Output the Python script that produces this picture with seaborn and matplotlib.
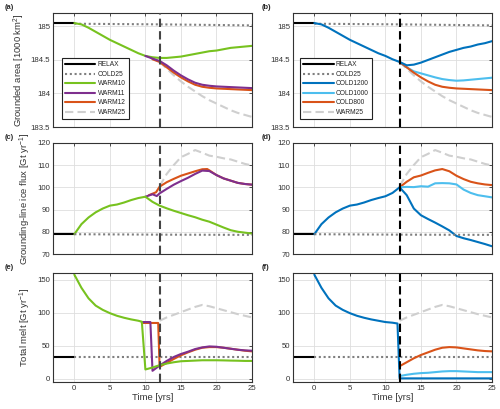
import numpy as np
import matplotlib
matplotlib.use("Agg")
import matplotlib.pyplot as plt
import seaborn as sns
from matplotlib.ticker import FormatStrFormatter

# ---- data ----
t_relax = [-3, 0]
relax_area = [185.05, 185.05]
relax_flux = [79.0, 79.0]
relax_melt = [33.0, 33.0]

t_cold25 = [0, 12.5, 25]
cold25_area = [185.04, 185.03, 185.015]
cold25_flux = [79.0, 78.8, 78.7]
cold25_melt = [33.0, 33.0, 33.0]

# shared warm spin-up, years 0..12 (followed by COLD runs)
t_yr = list(range(0, 26))
cold1200_area = [185.05, 185.03, 184.98, 184.92, 184.86, 184.80, 184.75, 184.70, 184.65, 184.60, 184.56, 184.51, 184.47,
                 184.42, 184.43, 184.46, 184.50, 184.54, 184.58, 184.62, 184.65, 184.68, 184.70, 184.73, 184.75, 184.78]
cold1200_flux = [79.0, 83.5, 86.5, 88.8, 90.5, 91.8, 92.3, 93.2, 94.3, 95.2, 96.0, 97.5, 100.0,
                 96.5, 90.5, 87.5, 85.8, 84.2, 82.5, 80.7, 78.2, 77.2, 76.4, 75.5, 74.6, 73.6]
t_cold1200_melt = [0, 1, 2, 3, 4, 5, 6, 7, 8, 9, 10, 11, 11.7, 12, 25]
cold1200_melt = [158, 138, 122, 111, 104.5, 99.5, 95.5, 92.5, 90, 88, 86, 85, 83.8, 0.5, 0.5]

t_post = list(range(12, 26))
cold1000_area = [184.47, 184.39, 184.33, 184.30, 184.27, 184.24, 184.215, 184.20, 184.19, 184.195, 184.205, 184.215, 184.225, 184.235]
cold1000_flux = [100.0, 100.2, 100.1, 100.5, 100.3, 101.8, 101.9, 101.8, 101.3, 99.0, 97.5, 96.5, 96.0, 95.5]
cold1000_melt = [4, 6, 7.5, 8.5, 9, 10, 11, 11.5, 11.5, 11, 10.5, 10, 10, 10]

cold800_area = [184.47, 184.39, 184.31, 184.24, 184.18, 184.13, 184.10, 184.085, 184.075, 184.07, 184.065, 184.06, 184.055, 184.05]
cold800_flux = [100.0, 102.5, 104.5, 105.3, 106.5, 107.6, 108.2, 107.2, 105.2, 103.7, 102.5, 101.8, 101.3, 101.0]
cold800_melt = [19, 25, 31, 36, 40, 44, 47, 48, 47.5, 46, 44.5, 43, 42, 41.5]

warm25_area = [184.47, 184.37, 184.27, 184.18, 184.10, 184.03, 183.96, 183.90, 183.85, 183.80, 183.75, 183.71, 183.68, 183.65]
warm25_flux = [100.5, 106, 110, 113.5, 115, 116.7, 115.5, 114.2, 113.7, 113, 112.5, 111.5, 110.5, 109.8]
warm25_melt = [88, 93, 97, 101, 105, 109, 112, 110, 107, 104, 101, 98, 95.5, 93]

warm10_area = [185.05, 185.03, 184.98, 184.92, 184.86, 184.80, 184.75, 184.70, 184.65, 184.60, 184.56, 184.54, 184.53,
               184.53, 184.54, 184.55, 184.57, 184.59, 184.61, 184.63, 184.64, 184.66, 184.68, 184.69, 184.70, 184.71]
warm10_flux = [79.0, 83.5, 86.5, 88.8, 90.5, 91.8, 92.3, 93.2, 94.3, 95.2, 95.8, 93.5, 91.8,
               90.6, 89.5, 88.5, 87.5, 86.6, 85.5, 84.6, 83.3, 82.0, 80.8, 80.1, 79.7, 79.3]
t_warm10_melt = [0, 1, 2, 3, 4, 5, 6, 7, 8, 9, 9.5, 10, 11, 12, 13, 14, 15, 16, 17, 18, 19, 20, 21, 22, 23, 24, 25]
warm10_melt = [158, 138, 122, 111, 104.5, 99.5, 95.5, 92.5, 90, 88, 86.5, 14, 17, 20.5, 23, 25, 26.5, 27, 27.5,
               28, 28, 28, 27.8, 27.5, 27.3, 27, 27]

t_warm11 = list(range(10, 26))
warm11_area = [184.56, 184.52, 184.485, 184.42, 184.34, 184.27, 184.21, 184.16, 184.13, 184.115, 184.105, 184.10,
               184.095, 184.09, 184.085, 184.08]
t_warm11_flux = [10, 11, 11.6, 12, 13, 14, 15, 16, 17, 18, 19, 20, 21, 22, 23, 24, 25]
warm11_flux = [95.8, 96.9, 96.1, 97.3, 99.3, 101.2, 102.8, 104.3, 106.0, 107.5, 107.3, 105.5, 104.0, 103.0, 102.0, 101.5, 101.2]
t_warm11_melt = [9.5, 10.7, 11.0, 12, 13, 14, 15, 16, 17, 18, 19, 20, 21, 22, 23, 24, 25]
warm11_melt = [86, 86, 12, 20, 27, 33, 37.5, 41, 45, 47.5, 49, 48.5, 47, 45.5, 44, 43, 42.5]

t_warm12 = list(range(11, 26))
warm12_area = [184.51, 184.47, 184.39, 184.31, 184.24, 184.18, 184.13, 184.10, 184.085, 184.075, 184.07, 184.065,
               184.06, 184.055, 184.05]
t_warm12_flux = [10.5, 11.5, 12, 13, 14, 15, 16, 17, 18, 18.7, 19, 20, 21, 22, 23, 24, 25]
warm12_flux = [96.5, 97.8, 100.3, 102.3, 103.8, 105.2, 106.2, 107.2, 108.1, 108.2, 107.6, 105.5, 104.0, 103.0, 102.0, 101.5, 101.2]
t_warm12_melt = [9.5, 11.8, 12, 13, 14, 15, 16, 17, 18, 19, 20, 21, 22, 23, 24, 25]
warm12_melt = [84.6, 84.6, 18, 24, 30, 35.5, 40, 44, 47, 48, 48, 47, 45.5, 44, 42.5, 41.5]

# ---- styles ----
C_RELAX = "black"
C_COLD25 = "#7f7f7f"
C_WARM10 = "#77c21f"
C_WARM11 = "#7e2f8e"
C_ORANGE = "#d95319"
C_WARM25 = "#cfcfcf"
C_BLUE = "#0072bd"
C_LBLUE = "#4dbeee"
DOT = (0, (1, 1.3))
DASH = (0, (4, 2))
LW = 1.5

sns.set_theme(style="white")
plt.rcParams["font.family"] = ["Liberation Sans", "DejaVu Sans"]
plt.rcParams["mathtext.default"] = "regular"

fig = plt.figure(figsize=(5, 4.09), dpi=100)
W = 199 / 500
rows = [(1 - 127 / 409, 114 / 409), (1 - 254.3 / 409, 111.6 / 409), (1 - 382 / 409, 108.7 / 409)]
lefts = [53 / 500, 293 / 500]
axes = [[fig.add_axes([l, b, W, h]) for l in lefts] for (b, h) in rows]


def draw(ax, t, y, color, ls="-", label=None, z=2):
    sns.lineplot(x=t, y=y, ax=ax, color=color, linestyle=ls, lw=LW, label=label,
                 sort=False, estimator=None, zorder=z)


# (a) / (b) grounded area
ax = axes[0][0]
draw(ax, t_relax, relax_area, C_RELAX, label="RELAX")
draw(ax, t_cold25, cold25_area, C_COLD25, DOT, label="COLD25")
draw(ax, t_yr, warm10_area, C_WARM10, label="WARM10")
draw(ax, t_warm11, warm11_area, C_WARM11, label="WARM11", z=2.2)
draw(ax, t_warm12, warm12_area, C_ORANGE, label="WARM12", z=2.1)
draw(ax, t_post, warm25_area, C_WARM25, DASH, label="WARM25", z=1.5)

ax = axes[0][1]
draw(ax, t_relax, relax_area, C_RELAX, label="RELAX")
draw(ax, t_cold25, cold25_area, C_COLD25, DOT, label="COLD25")
draw(ax, t_yr, cold1200_area, C_BLUE, label="COLD1200", z=2.2)
draw(ax, t_post, cold1000_area, C_LBLUE, label="COLD1000")
draw(ax, t_post, cold800_area, C_ORANGE, label="COLD800")
draw(ax, t_post, warm25_area, C_WARM25, DASH, label="WARM25", z=1.5)

# (c) / (d) grounding-line flux
ax = axes[1][0]
draw(ax, t_relax, relax_flux, C_RELAX)
draw(ax, t_post, warm25_flux, C_WARM25, DASH, z=1.5)
draw(ax, t_warm12_flux, warm12_flux, C_ORANGE)
draw(ax, t_warm11_flux, warm11_flux, C_WARM11)
draw(ax, t_yr, warm10_flux, C_WARM10)
draw(ax, t_cold25, cold25_flux, C_COLD25, DOT, z=2.5)

ax = axes[1][1]
draw(ax, t_relax, relax_flux, C_RELAX)
draw(ax, t_post, warm25_flux, C_WARM25, DASH, z=1.5)
draw(ax, t_post, cold800_flux, C_ORANGE)
draw(ax, t_post, cold1000_flux, C_LBLUE)
draw(ax, t_yr, cold1200_flux, C_BLUE)
draw(ax, t_cold25, cold25_flux, C_COLD25, DOT, z=2.5)

# (e) / (f) total melt
ax = axes[2][0]
draw(ax, t_relax, relax_melt, C_RELAX)
draw(ax, t_post, warm25_melt, C_WARM25, DASH, z=1.5)
draw(ax, t_cold25, cold25_melt, C_COLD25, DOT)
draw(ax, t_warm12_melt, warm12_melt, C_ORANGE)
draw(ax, t_warm11_melt, warm11_melt, C_WARM11)
draw(ax, t_warm10_melt, warm10_melt, C_WARM10)

ax = axes[2][1]
draw(ax, t_relax, relax_melt, C_RELAX)
draw(ax, t_post, warm25_melt, C_WARM25, DASH, z=1.5)
draw(ax, t_cold25, cold25_melt, C_COLD25, DOT)
draw(ax, t_post, cold800_melt, C_ORANGE)
draw(ax, t_post, cold1000_melt, C_LBLUE)
draw(ax, t_cold1200_melt, cold1200_melt, C_BLUE)

# ---- axes formatting ----
ylims = [(183.5, 185.2), (70, 120), (-5, 160)]
yticks = [[183.5, 184, 184.5, 185], [70, 80, 90, 100, 110, 120], [0, 50, 100, 150]]
ylabels = ["Grounded area [1000 km$^2$]", "Grounding-line ice flux [Gt yr$^{-1}$]", "Total melt [Gt yr$^{-1}$]"]
panel = [["(a)", "(b)"], ["(c)", "(d)"], ["(e)", "(f)"]]
for r in range(3):
    for c in range(2):
        ax = axes[r][c]
        if ax.get_legend() is not None:
            ax.get_legend().remove()
        ax.axvline(12, color="#444444" if c == 0 else "black", lw=LW, linestyle=DASH, zorder=3)
        ax.set_xlim(-3, 25)
        ax.set_ylim(*ylims[r])
        ax.set_xticks([0, 5, 10, 15, 20, 25])
        ax.set_yticks(yticks[r])
        ax.yaxis.set_major_formatter(FormatStrFormatter("%g"))
        ax.grid(True, color="#dedede", lw=0.6)
        ax.set_axisbelow(True)
        for s in ax.spines.values():
            s.set_visible(True)
            s.set_color("#333333")
            s.set_linewidth(0.8)
        ax.tick_params(direction="in", length=2.5, width=0.6, top=True, right=True,
                       labelsize=5.6, colors="#333333", pad=2)
        ax.set_xlabel("")
        ax.set_ylabel("")
        if r < 2:
            ax.tick_params(labelbottom=False)
        else:
            ax.set_xlabel("Time [yrs]", fontsize=6.8, color="#333333", labelpad=1)
        if c == 0:
            ax.set_ylabel(ylabels[r], fontsize=6.8, color="#333333", labelpad=3)
        ax.text(-0.16 if c == 1 else -0.245, 1.05, panel[r][c], transform=ax.transAxes,
                fontsize=5.4, fontweight="bold", ha="left", va="center")

for c, x0 in [(0, 0.044), (1, 0.035)]:
    leg = axes[0][c].legend(loc="lower left", bbox_to_anchor=(x0, 0.07), fontsize=4.8,
                            handlelength=4.6, handletextpad=0.35, labelspacing=0.38,
                            borderpad=0.45, borderaxespad=0, fancybox=False, framealpha=1)
    leg.get_frame().set_edgecolor("#222222")
    leg.get_frame().set_linewidth(0.8)

fig.savefig("out.png", dpi=100)
